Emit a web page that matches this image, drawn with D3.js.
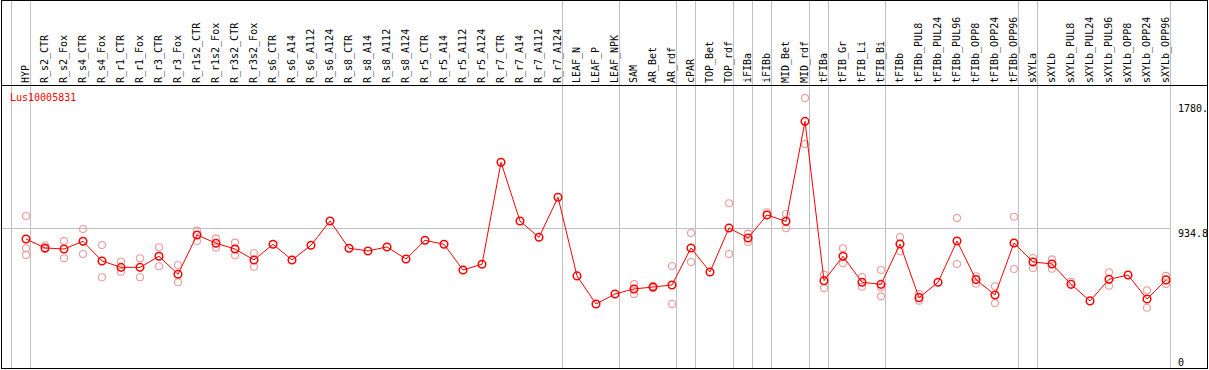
<!DOCTYPE html>
<html>
<head>
<meta charset="utf-8">
<script src="https://cdn.jsdelivr.net/npm/d3@7"></script>
<style>
    body { margin: 0; background: #fff; }
    text { font-family: "DejaVu Sans Mono", monospace; font-size: 10px; }
</style>
</head>
<body>
<div id="chart"></div>
<script>
// Expression profile of one gene over tissues / treatments
const geneName = 'Lus10005831';

const categories = [
    'HYP', 'R_s2_CTR', 'R_s2_Fox', 'R_s4_CTR', 'R_s4_Fox', 'R_r1_CTR', 'R_r1_Fox',
    'R_r3_CTR', 'R_r3_Fox', 'R_r1s2_CTR', 'R_r1s2_Fox', 'R_r3s2_CTR', 'R_r3s2_Fox',
    'R_s6_CTR', 'R_s6_A14', 'R_s6_A112', 'R_s6_A124', 'R_s8_CTR', 'R_s8_A14',
    'R_s8_A112', 'R_s8_A124', 'R_r5_CTR', 'R_r5_A14', 'R_r5_A112', 'R_r5_A124',
    'R_r7_CTR', 'R_r7_A14', 'R_r7_A112', 'R_r7_A124', 'LEAF_N', 'LEAF_P', 'LEAF_NPK',
    'SAM', 'AR_Bet', 'AR_rdf', 'cPAR', 'TOP_Bet', 'TOP_rdf', 'iFIBa', 'iFIBb',
    'MID_Bet', 'MID_rdf', 'tFIBa', 'tFIB_Gr', 'tFIB_Li', 'tFIB_Bi', 'tFIBb',
    'tFIBb_PUL8', 'tFIBb_PUL24', 'tFIBb_PUL96', 'tFIBb_OPP8', 'tFIBb_OPP24', 'tFIBb_OPP96',
    'sXYLa', 'sXYLb', 'sXYLb_PUL8', 'sXYLb_PUL24', 'sXYLb_PUL96', 'sXYLb_OPP8',
    'sXYLb_OPP24', 'sXYLb_OPP96'
];

// mean expression per sample
const means = [
    863, 802, 795, 847, 714, 671, 671, 746, 624, 890, 834, 795, 721,
    827, 721, 820, 984, 800, 782, 809, 727, 854, 827, 653, 692,
    1381, 984, 874, 1145, 613, 423, 491,
    525, 538, 552, 802, 640, 937, 869, 1025,
    982, 1658, 581, 746, 570, 556, 829,
    466, 570, 849, 588, 484, 836,
    707, 694, 556, 444, 590, 619, 457, 586
];

// individual replicates (light circles)
const replicates = [
    [1018, 800, 755], [820, 795], [849, 732], [930, 761], [822, 604], [709, 642], [732, 604],
    [807, 678], [687, 570], [919, 849], [867, 804], [838, 752], [768, 675],
    [], [], [], [], [], [], [], [], [], [], [], [],
    [], [], [], [], [], [], [],
    [558, 491], [544, 531], [680, 423], [903, 707], [], [1104, 761], [899, 842], [1043],
    [1032, 935], [1816, 1505], [621, 531], [800, 698], [606, 540], [653, 475, 536], [876, 780],
    [491, 446], [], [1005, 694], [611, 560], [543, 428], [1013, 660],
    [734, 667], [725, 662], [574], [], [638, 547], [], [516, 398], [613, 558]
];

// group separators are drawn after these sample indices (-1 = before the first)
const separatorsAfter = [-1, 0, 28, 31, 34, 35, 37, 38, 39, 41, 42, 45, 52, 53, 60];

const refValue = 934.8;
const yTickValues = [1780, 934.8, 0];
const yTickLabels = ['1780.', '934.8', '0'];

let width = 1209,
    height = 370,
    headerBottom = 85.5,
    plotRight = 1170.5,
    step = 19;

let svg = d3.select('#chart')
    .append('svg')
    .attr('width', width)
    .attr('height', height);

let xScale = d3.scaleBand()
    .domain(categories)
    .range([16.5, 16.5 + step * categories.length])
    .padding(0);

let cx = d => xScale(d) + xScale.bandwidth() / 2;
let sepX = i => 26 + step * i + 4.5;

let yScale = d3.scaleLinear()
    .domain([0, 1780])
    .range([366.6, 103.3]);

// vertical group separators
svg.append('g')
    .selectAll('line')
    .data(separatorsAfter)
    .enter().append('line')
    .attr('x1', d => sepX(d))
    .attr('x2', d => sepX(d))
    .attr('y1', 0)
    .attr('y2', 369)
    .attr('stroke', '#c0c0c0')
    .attr('stroke-width', 1);

// reference line
svg.append('line')
    .attr('x1', 1)
    .attr('x2', plotRight)
    .attr('y1', Math.round(yScale(refValue)) + 0.5)
    .attr('y2', Math.round(yScale(refValue)) + 0.5)
    .attr('stroke', '#c0c0c0');

// header separator
svg.append('line')
    .attr('x1', 1)
    .attr('x2', 1208)
    .attr('y1', headerBottom)
    .attr('y2', headerBottom)
    .attr('stroke', '#000');

// outer frame
svg.append('rect')
    .attr('x', 1.5)
    .attr('y', 0.5)
    .attr('width', 1206)
    .attr('height', 368)
    .attr('fill', 'none')
    .attr('stroke', '#000');

// rotated sample labels
svg.append('g')
    .selectAll('text')
    .data(categories)
    .enter().append('text')
    .attr('transform', d => 'translate(' + (cx(d) + 2.5) + ',83) rotate(-90) scale(1,1.12)')
    .attr('fill', '#000')
    .text(d => d);

// y labels on the right
svg.append('g')
    .selectAll('text')
    .data(yTickValues)
    .enter().append('text')
    .attr('x', 1178)
    .attr('y', d => Math.min(yScale(d) + 8.5, 366))
    .attr('fill', '#000')
    .text((d, i) => yTickLabels[i]);

// gene name
svg.append('text')
    .attr('x', 10)
    .attr('y', 101)
    .attr('fill', '#ff0000')
    .text(geneName);

// replicate points
let repData = [];
replicates.forEach((r, i) => r.forEach(v => repData.push({ c: categories[i], v: v })));

svg.append('g')
    .selectAll('circle')
    .data(repData)
    .enter().append('circle')
    .attr('cx', d => cx(d.c))
    .attr('cy', d => yScale(d.v))
    .attr('r', 3.5)
    .attr('fill', 'none')
    .attr('stroke', '#f09a9a')
    .attr('stroke-width', 1.1);

// mean line
let line = d3.line()
    .x((d, i) => cx(categories[i]))
    .y(d => yScale(d));

svg.append('path')
    .datum(means)
    .attr('d', line)
    .attr('fill', 'none')
    .attr('stroke', '#ff0000')
    .attr('stroke-width', 1);

svg.append('g')
    .selectAll('circle')
    .data(means)
    .enter().append('circle')
    .attr('cx', (d, i) => cx(categories[i]))
    .attr('cy', d => yScale(d))
    .attr('r', 3.8)
    .attr('fill', 'none')
    .attr('stroke', '#ff0000')
    .attr('stroke-width', 1.5);
</script>
</body>
</html>
